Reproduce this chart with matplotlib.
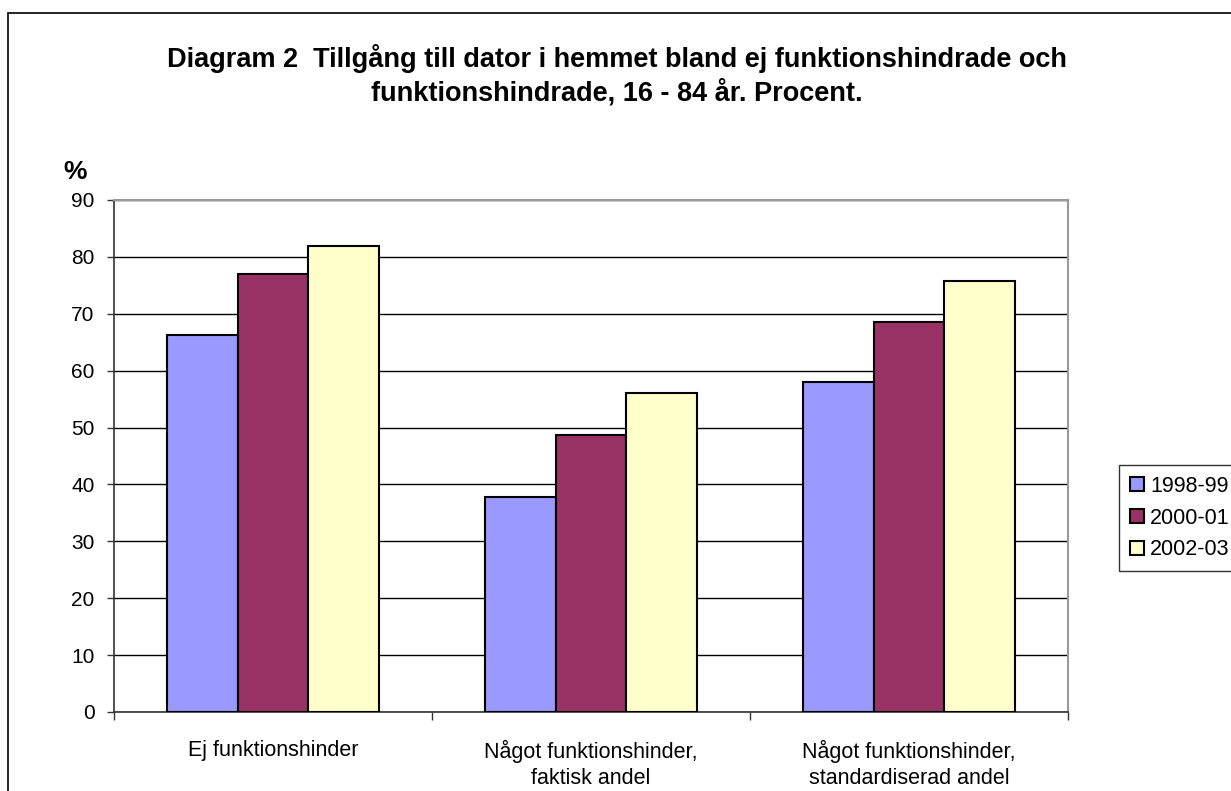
import matplotlib.pyplot as plt
import numpy as np
from matplotlib.patches import Rectangle

plt.rcParams['font.family'] = ['Liberation Sans', 'DejaVu Sans']

categories = ['Ej funktionshinder', 'Något funktionshinder,\nfaktisk andel',
              'Något funktionshinder,\nstandardiserad andel']
series_names = ['1998-99', '2000-01', '2002-03']
v_1998 = [66.2, 37.8, 58.0]
v_2000 = [77.0, 48.6, 68.5]
v_2002 = [81.9, 56.1, 75.7]
colors = ['#9999ff', '#993366', '#ffffcc']

fig = plt.figure(figsize=(12.31, 7.91), dpi=100)
ax = fig.add_axes([0.0926, 0.0999, 0.7750, 0.6473])

x = np.arange(len(categories))
w = 2 / 9
for i, (vals, name) in enumerate(zip([v_1998, v_2000, v_2002], series_names)):
    ax.bar(x + (i - 1) * w, vals, width=w, color=colors[i], edgecolor='black',
           linewidth=1.5, label=name, zorder=3)

ax.set_xlim(-0.5, 2.5)
ax.set_ylim(0, 90)
ax.set_yticks(range(0, 91, 10))
ax.yaxis.grid(True, color='black', linewidth=1, zorder=0)
ax.set_xticks(x)
ax.set_xticklabels(categories, fontsize=15.5, linespacing=1.35)
ax.set_xticks([-0.5, 0.5, 1.5, 2.5], minor=True)
ax.tick_params(axis='x', which='major', length=0, pad=20)
ax.tick_params(axis='x', which='minor', length=6, width=1, color='#333333')
ax.tick_params(axis='y', length=5, width=1, color='#333333', labelsize=15, pad=9)
for s in ['top', 'right']:
    ax.spines[s].set_color('#999999')
    ax.spines[s].set_linewidth(1.5)
for s in ['left', 'bottom']:
    ax.spines[s].set_color('#333333')
    ax.spines[s].set_linewidth(1.2)

fig.text(0.501, 0.905, 'Diagram 2  Tillgång till dator i hemmet bland ej funktionshindrade och\n'
         'funktionshindrade, 16 - 84 år. Procent.', ha='center', va='center',
         fontsize=19.5, fontweight='bold', linespacing=1.3)
fig.text(0.061, 0.782, '%', ha='center', va='center', fontsize=19, fontweight='bold')

leg = fig.legend(loc='upper left', bbox_to_anchor=(1119 / 1231, 1 - 465 / 791),
                 fontsize=15.5, frameon=True, fancybox=False, edgecolor='black',
                 handlelength=0.65, handleheight=0.65, handletextpad=0.3,
                 labelspacing=0.5, borderpad=0.5, borderaxespad=0)
leg.get_frame().set_linewidth(1)

fig.patches.append(Rectangle((8 / 1231, -0.1), 1.2, 1 - 13 / 791 + 0.1,
                             transform=fig.transFigure, fill=False,
                             edgecolor='black', linewidth=1.2))

fig.savefig('out.png', dpi=100)
